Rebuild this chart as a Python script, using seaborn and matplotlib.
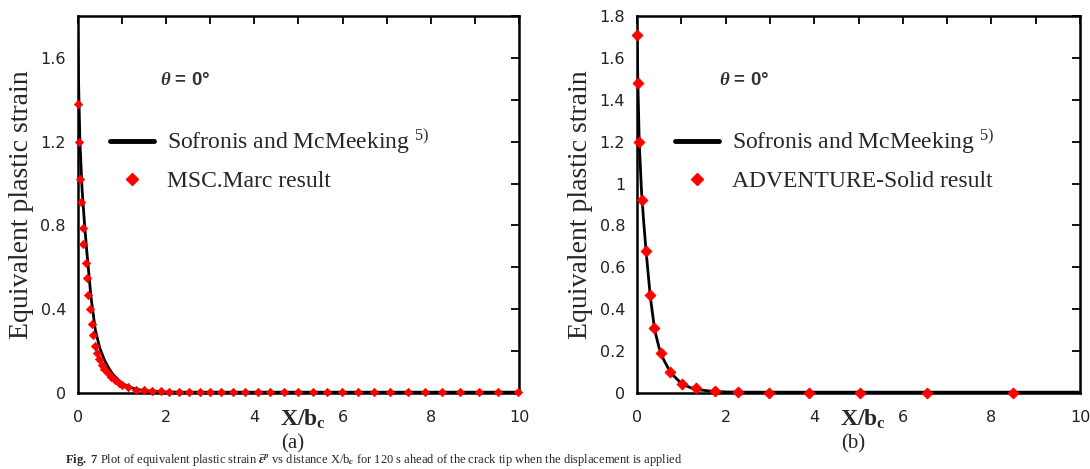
import matplotlib
matplotlib.use("Agg")
import matplotlib.pyplot as plt
import seaborn as sns
from matplotlib.lines import Line2D
from matplotlib.ticker import MultipleLocator, FuncFormatter

# Sofronis and McMeeking reference curve (same in both panels)
x_ref = [0, 0.02, 0.05, 0.1, 0.15, 0.2, 0.3, 0.4, 0.5, 0.6, 0.7, 0.8, 1.0, 1.2,
         1.4, 1.7, 2.0, 2.5, 3, 4, 5, 6, 7, 8, 9, 10]
y_ref = [1.72, 1.48, 1.20, 0.97, 0.82, 0.69, 0.46, 0.30, 0.215, 0.16, 0.12, 0.088,
         0.046, 0.026, 0.015, 0.008, 0.005, 0.004, 0.004, 0.004, 0.004, 0.004,
         0.004, 0.004, 0.004, 0.004]

# (a) MSC.Marc result
x_marc = [0, 0.03, 0.06, 0.08, 0.11, 0.13, 0.19, 0.21, 0.24, 0.28, 0.32, 0.35,
          0.39, 0.43, 0.48, 0.54, 0.60, 0.68, 0.76, 0.84, 0.93, 1.0, 1.15, 1.33,
          1.51, 1.69, 1.88, 2.07, 2.30, 2.52, 2.76, 3.0, 3.25, 3.52, 3.80, 4.08,
          4.36, 4.67, 4.99, 5.32, 5.65, 5.98, 6.34, 6.71, 7.08, 7.47, 7.87, 8.26,
          8.67, 9.10, 9.53, 9.98]
y_marc = [1.38, 1.20, 1.02, 0.91, 0.79, 0.71, 0.62, 0.55, 0.47, 0.40, 0.33, 0.275,
          0.225, 0.19, 0.16, 0.135, 0.115, 0.095, 0.077, 0.061, 0.048, 0.04, 0.027,
          0.016, 0.012, 0.009, 0.008, 0.007, 0.006, 0.006, 0.005, 0.005, 0.004,
          0.004, 0.004, 0.004, 0.004, 0.004, 0.004, 0.004, 0.004, 0.004, 0.004,
          0.004, 0.004, 0.004, 0.004, 0.004, 0.004, 0.004, 0.004, 0.004]

# (b) ADVENTURE-Solid result
x_adv = [0, 0.02, 0.05, 0.12, 0.20, 0.29, 0.39, 0.55, 0.75, 1.01, 1.33, 1.75,
         2.29, 2.99, 3.89, 5.03, 6.54, 8.48]
y_adv = [1.71, 1.48, 1.20, 0.92, 0.68, 0.47, 0.31, 0.19, 0.10, 0.045, 0.022, 0.009,
         0.004, 0.0, 0.0, 0.0, 0.0, 0.0]

ref_label = "Sofronis and McMeeking $^{5)}$"
panels = [
    ("(a)", x_marc, y_marc, "MSC.Marc result", 0.4, 18, 0.073),
    ("(b)", x_adv, y_adv, "ADVENTURE-Solid result", 0.2, 32, 0.086),
]
caption = (r"$\mathbf{Fig.\ 7}$ Plot of equivalent plastic strain $\bar{\varepsilon}^p$"
           r" vs distance X/b$_c$ for 120 s ahead of the crack tip when the displacement is applied")

sns.set_theme(style="white")
plt.rcParams["mathtext.fontset"] = "custom"
plt.rcParams["mathtext.rm"] = "Liberation Serif"
plt.rcParams["mathtext.bf"] = "Liberation Serif:bold"
plt.rcParams["mathtext.it"] = "Liberation Serif:italic:bold"
serif = ["Liberation Serif", "DejaVu Serif"]

fig = plt.figure(figsize=(10.9, 4.69), dpi=100)
axes_pos = [[77.7 / 1090, 76 / 469, 441.5 / 1090, 377 / 469],
            [637 / 1090, 76 / 469, 443 / 1090, 377 / 469]]

for pos, (tag, xs, ys, lab, ystep, msize, lx) in zip(axes_pos, panels):
    ax = fig.add_axes(pos)
    sns.lineplot(x=x_ref, y=y_ref, ax=ax, color="black", lw=2, sort=False, zorder=3)
    sns.scatterplot(x=xs, y=ys, ax=ax, marker="D", s=msize, color="red",
                    edgecolor="red", linewidth=0.5, clip_on=False, zorder=4)
    ax.set_xlim(0, 10)
    ax.set_ylim(0, 1.8)
    ax.xaxis.set_major_locator(MultipleLocator(2))
    ax.xaxis.set_minor_locator(MultipleLocator(1))
    ax.yaxis.set_major_locator(MultipleLocator(ystep))
    ax.yaxis.set_minor_locator(MultipleLocator(0.2))
    ax.yaxis.set_major_formatter(FuncFormatter(lambda v, p: f"{v:g}"))
    ax.tick_params(which="both", direction="in", top=True, right=True,
                   length=6, width=1.3, color="black")
    ax.tick_params(axis="x", pad=12, labelsize=11.5, labelcolor="#222222")
    ax.tick_params(axis="y", pad=8.5, labelsize=11.5, labelcolor="#222222")
    for s in ax.spines.values():
        s.set_color("black")
        s.set_linewidth(1.8)

    ax.set_ylabel("Equivalent plastic strain", family=serif, fontsize=20)
    ax.yaxis.set_label_coords(-0.1, 0.5)
    ax.set_xlabel("")
    ax.text(0.51, -0.07, r"$\mathbf{X/b_c}$", transform=ax.transAxes,
            ha="center", va="center", fontsize=17)
    ax.text(1.86, 1.49, r"$\theta$ = 0°", ha="left", va="center",
            fontsize=13.5, fontweight="bold", family=["Liberation Sans", "DejaVu Sans"],
            color="#333333")

    handles = [Line2D([], [], color="black", lw=3.5),
               Line2D([], [], color="red", marker="D", ls="none", markersize=6.5)]
    ax.legend(handles, [ref_label, lab], loc="center left",
              bbox_to_anchor=(lx, 0.619),
              frameon=False, prop={"family": serif, "size": 17},
              handlelength=1.85, handletextpad=0.55, labelspacing=0.6,
              borderpad=0, borderaxespad=0)

    fig.text(pos[0] + pos[2] / 2 - 0.005, (469 - 444) / 469, tag, ha="center",
             va="center", family=serif, fontsize=15)

fig.text(0.06, 1 / 469, caption, ha="left", va="bottom", family=serif, fontsize=9)

fig.savefig("out.png", dpi=100, facecolor="white")
